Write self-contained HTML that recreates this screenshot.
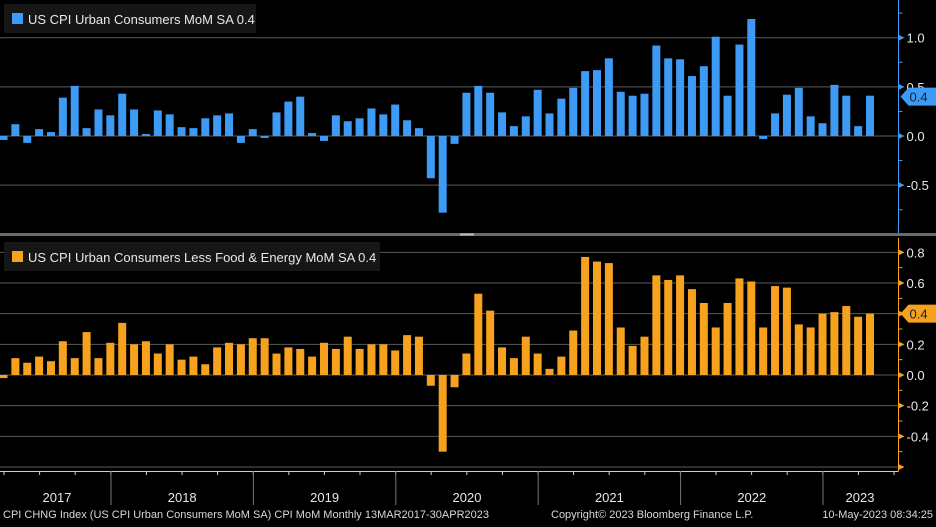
<!DOCTYPE html>
<html><head><meta charset="utf-8"><style>
html,body{margin:0;padding:0;background:#000;}
body{width:936px;height:522px;overflow:hidden;font-family:"Liberation Sans",sans-serif;}
svg text{font-family:"Liberation Sans",sans-serif;}
</style></head><body>
<svg id="chart" width="936" height="522" viewBox="0 0 936 522" xmlns="http://www.w3.org/2000/svg">
<rect x="0" y="0" width="936" height="522" fill="#000"/>
<g id="top"></g><g id="bot"></g><g id="xaxis"></g>
<rect x="0" y="233" width="936" height="3" fill="#6a6a6a"/>
<rect x="460" y="233.5" width="14" height="2" fill="#bbb"/>
<g>
<rect x="4" y="4" width="252" height="29" fill="#161616"/>
<rect x="12" y="13" width="11" height="11" fill="#3d9af5"/>
<text x="28" y="24" fill="#e8e8e8" font-size="13">US CPI Urban Consumers MoM SA 0.4</text>
</g>
<g>
<rect x="4" y="242" width="376" height="29" fill="#161616"/>
<rect x="12" y="251" width="11" height="11" fill="#f7a21f"/>
<text x="28" y="262" fill="#e8e8e8" font-size="13">US CPI Urban Consumers Less Food &amp; Energy MoM SA 0.4</text>
</g>
<g font-size="11" fill="#d8d8d8">
<text x="3" y="518">CPI CHNG Index (US CPI Urban Consumers MoM SA) CPI MoM  Monthly 13MAR2017-30APR2023</text>
<text x="551" y="518">Copyright© 2023 Bloomberg Finance L.P.</text>
<text x="933" y="518" text-anchor="end">10-May-2023 08:34:25</text>
</g>
</svg>
<script>
const headline = [-0.04,0.12,-0.07,0.07,0.04,0.39,0.51,0.08,0.27,0.21,0.43,0.27,0.02,0.26,0.22,0.09,0.08,0.18,0.21,0.23,-0.07,0.07,-0.02,0.24,0.35,0.40,0.03,-0.05,0.21,0.15,0.18,0.28,0.22,0.32,0.16,0.08,-0.43,-0.78,-0.08,0.44,0.51,0.44,0.24,0.10,0.20,0.47,0.23,0.38,0.49,0.66,0.67,0.79,0.45,0.41,0.43,0.92,0.79,0.78,0.61,0.71,1.01,0.41,0.93,1.19,-0.03,0.23,0.42,0.49,0.20,0.13,0.52,0.41,0.10,0.41];
const core = [-0.02,0.11,0.08,0.12,0.09,0.22,0.11,0.28,0.11,0.21,0.34,0.20,0.22,0.14,0.20,0.10,0.12,0.07,0.18,0.21,0.20,0.24,0.24,0.14,0.18,0.17,0.12,0.21,0.17,0.25,0.17,0.20,0.20,0.16,0.26,0.25,-0.07,-0.50,-0.08,0.14,0.53,0.42,0.18,0.11,0.25,0.14,0.04,0.12,0.29,0.77,0.74,0.73,0.31,0.19,0.25,0.65,0.62,0.65,0.56,0.47,0.31,0.47,0.63,0.61,0.31,0.58,0.57,0.33,0.31,0.40,0.41,0.45,0.38,0.40];
const topTicks = [1.0,0.5,0.0,-0.5];
const topTickLabels = ["1.0","0.5","0.0","-0.5"];
const botTicks = [0.8,0.6,0.4,0.2,0.0,-0.2,-0.4,-0.6];
const botTickLabels = ["0.8","0.6","0.4","0.2","0.0","-0.2","-0.4",""];
const years = ["2017","2018","2019","2020","2021","2022","2023"];
const lastTop = 0.4, lastBot = 0.4;

const NS="http://www.w3.org/2000/svg";
function mk(parent,tag,attrs){const e=document.createElementNS(NS,tag);for(const k in attrs)e.setAttribute(k,attrs[k]);parent.appendChild(e);return e;}
const xC = i => 3.5 + i*11.87;
const yTop = v => 136 - v*98.3;
const yBot = v => 375 - v*153.3;
const AX = 898.5;

function panel(g, data, ys, ticks, labels, minorStep, minV, maxV, color, name, last){
  ticks.forEach((t,k)=>{
    const l=mk(g,'line',{x1:0,x2:AX,y1:ys(t),y2:ys(t),stroke:'#5a5a5a','stroke-width':1});
    
    
    const m=mk(g,'path',{d:`M${AX} ${ys(t)-3}L${AX+6} ${ys(t)}L${AX} ${ys(t)+3}Z`,fill:color});
    
    
    if(labels[k]){
      const tx=mk(g,'text',{x:AX+8,y:ys(t)+5,fill:'#e8e8e8','font-size':13});
      
      
      tx.textContent=labels[k];
    }
  });
  for(let v=minV; v<=maxV+1e-9; v+=minorStep){
    mk(g,'line',{x1:AX,x2:AX+4,y1:ys(v),y2:ys(v),stroke:color,'stroke-width':1});
  }
  const ax=mk(g,'line',{x1:AX,x2:AX,y1:name==='top'?0:238,y2:name==='top'?233:471,stroke:color,'stroke-width':1});
  
  
  data.forEach((v,i)=>{
    const y0=ys(0), y1=ys(v);
    const r=mk(g,'rect',{x:xC(i)-4,y:Math.min(y0,y1),width:8,height:Math.max(1,Math.abs(y1-y0)),fill:color});
    
    
  });
  const by=ys(last);
  const b=mk(g,'path',{d:`M${AX+2} ${by}L${AX+10} ${by-9}L936 ${by-9}L936 ${by+9}L${AX+10} ${by+9}Z`,fill:color});
  
  
  const bt=mk(g,'text',{x:AX+11,y:by+5,fill:'#102040','font-size':13});
  
  
  bt.textContent=String(last);
}
panel(document.getElementById('top'), headline, yTop, topTicks, topTickLabels, 0.25, -1.0, 1.25, '#3d9af5', 'top', lastTop);
panel(document.getElementById('bot'), core, yBot, botTicks, botTickLabels, 0.1, -0.6, 0.8, '#f7a21f', 'bottom', lastBot);

const xg=document.getElementById('xaxis');
const xl=mk(xg,'line',{x1:0,x2:AX,y1:471.5,y2:471.5,stroke:'#cfcfcf','stroke-width':1});


for(let q=0;q<26;q++){const x=4+q*35.6;mk(xg,'line',{x1:x,x2:x,y1:471,y2:475,stroke:'#cfcfcf'});}
const yearStart = i => 111 + (i-1)*142.4;
years.forEach((yr,i)=>{
  if(i>0){const s=mk(xg,'line',{x1:yearStart(i),x2:yearStart(i),y1:471,y2:505,stroke:'#777'});
    
    }
  const left = i===0 ? 0 : yearStart(i);
  const right = Math.min(yearStart(i+1), AX);
  const cx = i===0 ? 57 : (i===6 ? 860 : (left+right)/2);
  const t=mk(xg,'text',{x:cx,y:502,fill:'#e8e8e8','font-size':13,'text-anchor':'middle'});
  
  
  t.textContent=yr;
});
</script>
</body></html>
